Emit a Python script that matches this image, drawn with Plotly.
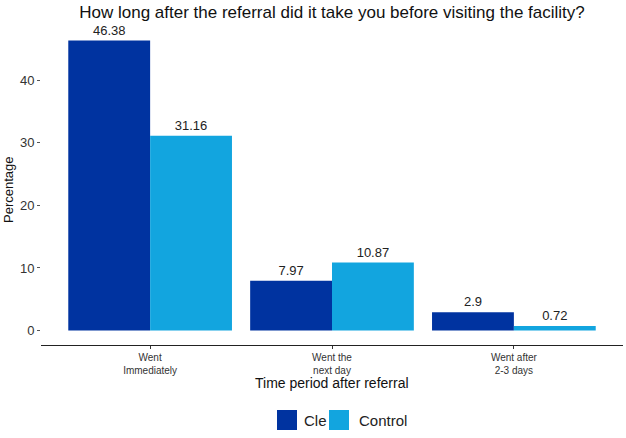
import plotly.graph_objects as go

categories = ["Went<br>Immediately", "Went the<br>next day", "Went after<br>2-3 days"]
series_names = ["Cle", "Control"]
cle_values = [46.38, 7.97, 2.9]
control_values = [31.16, 10.87, 0.72]
cle_labels = ["46.38", "7.97", "2.9"]
control_labels = ["31.16", "10.87", "0.72"]
y_ticks = [0, 10, 20, 30, 40]
colors = ["#0033A0", "#12A5DF"]

FONT = "Liberation Sans, Arial, Helvetica, sans-serif"
W, H = 626, 438
ML, MR, MT, MB = 41, 3, 26, 93
PW = W - ML - MR
PH = H - MT - MB


def px_x(px):
    return (px - ML) / PW


def px_y(py):
    return ((H - MB) - py) / PH


fig = go.Figure()
for name, vals, labs, col in [(series_names[0], cle_values, cle_labels, colors[0]),
                              (series_names[1], control_values, control_labels, colors[1])]:
    fig.add_trace(go.Bar(
        name=name, x=categories, y=vals, text=labs,
        textposition="outside", marker=dict(color=col, line=dict(width=0)),
        textfont=dict(size=13, color="#222222"), cliponaxis=False, showlegend=False,
    ))

# custom legend (large keys like ggplot)
legend_keys = [(277, 297, 302), (329, 349, 357)]
shapes = []
annotations = []
for (x0, x1, tx), name, col in zip(legend_keys, series_names, colors):
    shapes.append(dict(type="rect", xref="paper", yref="paper",
                       x0=px_x(x0), x1=px_x(x1), y0=px_y(430), y1=px_y(410),
                       fillcolor=col, line=dict(width=0)))
    annotations.append(dict(text=name, xref="paper", yref="paper",
                            x=px_x(tx), y=px_y(420), xanchor="left", yanchor="middle",
                            showarrow=False, font=dict(size=15, color="#222222")))

annotations += [
    dict(text="Time period after referral", xref="paper", yref="paper",
         x=0.5, y=px_y(383), xanchor="center", yanchor="middle",
         showarrow=False, font=dict(size=14, color="#111111")),
    dict(text="Percentage", xref="paper", yref="paper", textangle=-90,
         x=px_x(8), y=px_y(190), xanchor="center", yanchor="middle",
         showarrow=False, font=dict(size=13, color="#111111")),
]

fig.update_layout(
    width=W, height=H,
    barmode="group", bargap=0.1, bargroupgap=0,
    plot_bgcolor="white", paper_bgcolor="white",
    font=dict(family=FONT, color="#222222"),
    margin=dict(l=ML, r=MR, t=MT, b=MB, autoexpand=False),
    title=dict(text="How long after the referral did it take you before visiting the facility?",
               x=(ML + PW / 2) / W, xanchor="center",
               y=1 - 12 / H, yanchor="middle",
               font=dict(size=17, color="#111111")),
    xaxis=dict(
        range=[-0.6, 2.6], showline=True, linecolor="#222222", linewidth=1.2,
        ticks="outside", ticklen=3, tickcolor="#333333", showgrid=False,
        tickfont=dict(size=10, color="#333333"), automargin=False,
    ),
    yaxis=dict(
        range=[-2.32, 48.7], showline=False, showgrid=False, zeroline=False,
        tickvals=y_ticks, ticks="outside", ticklen=3, tickcolor="#555555",
        tickfont=dict(size=13, color="#333333"), automargin=False,
    ),
    shapes=shapes,
    annotations=annotations,
)

fig.write_html("out.html", config={"displayModeBar": False},
               post_script="document.body.style.margin='0';")
